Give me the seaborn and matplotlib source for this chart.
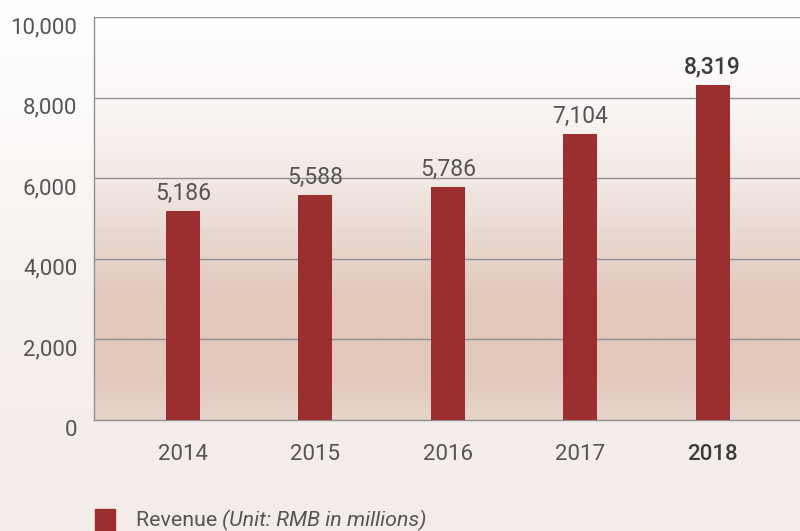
import matplotlib.pyplot as plt
import matplotlib.colors as mcolors
import numpy as np
import seaborn as sns

years = ["2014", "2015", "2016", "2017", "2018"]
revenue = [5186, 5588, 5786, 7104, 8319]
y_ticks = [0, 2000, 4000, 6000, 8000, 10000]

bar_color = "#9b2f2f"
text_color = "#555555"

sns.set_theme(style="white")
plt.rcParams["font.family"] = ["Roboto", "DejaVu Sans"]

fig = plt.figure(figsize=(8, 5.31), dpi=100)

# figure background gradient (white at top -> light pink at bottom)
bg = fig.add_axes([0, 0, 1, 1], zorder=-10)
fig_cmap = mcolors.LinearSegmentedColormap.from_list(
    "figbg", [(0, "#f4ece8"), (0.45, "#f6f0ed"), (0.8, "#fdfbfa"), (1, "#ffffff")])
bg.imshow(np.linspace(0, 1, 256).reshape(-1, 1), aspect="auto", cmap=fig_cmap,
          origin="lower", extent=[0, 1, 0, 1])
bg.set_axis_off()

ax = fig.add_axes([94 / 800, (531 - 420) / 531, (800 - 94) / 800, (420 - 17) / 531])

# plot area gradient
area_cmap = mcolors.LinearSegmentedColormap.from_list(
    "areabg", [(0, "#e7d4ca"), (0.12, "#e2c7bb"), (0.3, "#e2c8bc"), (0.45, "#e9d8d0"),
               (0.6, "#f3e9e5"), (0.8, "#fbf7f6"), (1, "#ffffff")])
ax.imshow(np.linspace(0, 1, 256).reshape(-1, 1), aspect="auto", cmap=area_cmap,
          origin="lower", extent=[0, 1, 0, 1], transform=ax.transAxes, zorder=0)

sns.barplot(x=years, y=revenue, color=bar_color, width=0.257, saturation=1,
            linewidth=0, ax=ax, zorder=3)

ax.set_xlim(-0.672, 4.66)
ax.set_ylim(0, 10000)
ax.set_yticks(y_ticks)
ax.set_yticklabels([f"{v:,}" for v in y_ticks])
for y in y_ticks[1:]:
    ax.axhline(y, color="#8f8f94", lw=1, zorder=2)

for i, v in enumerate(revenue):
    ax.text(i, v + 150, f"{v:,}", ha="center", va="bottom", fontsize=16.5,
            color="#3c3c3c" if i == 4 else text_color,
            fontweight="medium" if i == 4 else "normal", zorder=4)

ax.tick_params(axis="both", length=0, labelsize=16, labelcolor=text_color)
ax.tick_params(axis="x", pad=17)
ax.tick_params(axis="y", pad=12)
ax.get_xticklabels()[-1].set_color("#3c3c3c")
ax.get_xticklabels()[-1].set_fontweight("medium")
for lbl in ax.get_yticklabels():
    lbl.set_va("top")

for side in ["right", "top"]:
    ax.spines[side].set_visible(False)
for side in ["left", "bottom"]:
    ax.spines[side].set_color("#8f8f94")
    ax.spines[side].set_linewidth(1)
ax.set_xlabel("")
ax.set_ylabel("")
ax.patch.set_alpha(0)

# legend
fig.patches.append(plt.Rectangle((95 / 800, 0), 20 / 800, 22 / 531,
                                 transform=fig.transFigure, color=bar_color))
t1 = fig.text(136 / 800, 11 / 531, "Revenue ", fontsize=15.4, color=text_color, va="center")
fig.canvas.draw()
x_end = t1.get_window_extent().x1 / fig.bbox.width
fig.text(x_end, 11 / 531, "(Unit: RMB in millions)", fontsize=15.4,
         color=text_color, va="center", style="italic")

fig.savefig("out.png", dpi=100)
